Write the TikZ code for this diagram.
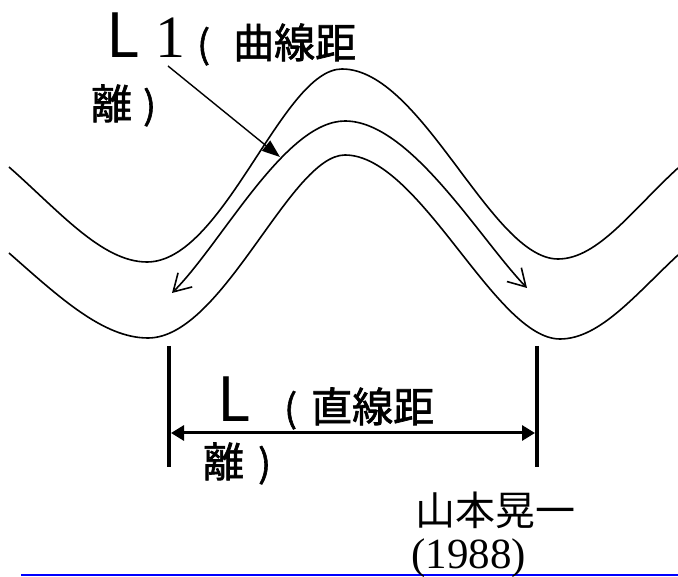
\documentclass[tikz,border=0pt]{standalone}
\usepackage{fontspec}
\usetikzlibrary{arrows.meta}
\newfontfamily\cjk{Noto Sans CJK JP}
\newfontfamily\cjkm{Noto Sans CJK JP}[FakeBold=1.6]
\newfontfamily\tms{Liberation Serif}
\newcommand{\bigL}{{\cjk\fontsize{61pt}{61pt}\selectfont L}}
\newcommand{\bigone}{{\tms\fontsize{60pt}{60pt}\selectfont 1}}
\newcommand{\pr}[1]{{\cjkm\fontsize{38pt}{38pt}\selectfont #1}}
\begin{document}
\begin{tikzpicture}[x=1pt,y=-1pt,
  bank/.style={line width=1.6pt, line join=round},
  barbs/.style={line width=1.6pt, {Straight Barb[length=17pt,width=20pt,line width=1.6pt]}-{Straight Barb[length=17pt,width=20pt,line width=1.6pt]}},
  pointer/.style={line width=1.4pt, -{Triangle[length=18pt,width=13pt]}},
  bar/.style={line width=4pt},
  span/.style={line width=3pt, {Triangle[length=13pt,width=15pt]}-{Triangle[length=13pt,width=15pt]}},
  txt/.style={inner sep=0pt, anchor=base west},
  label/.style={txt, font=\cjkm\fontsize{41pt}{41pt}\selectfont},
  cjkmid/.style={txt, font=\cjk\fontsize{40pt}{40pt}\selectfont},
  serifyr/.style={txt, font=\tms\fontsize{43pt}{43pt}\selectfont}]
\useasboundingbox (0,0) rectangle (678,577);

% river banks
\draw[bank] (9,167) .. controls (59,211) and (102,262) .. (147,262)
  .. controls (224,262) and (282,69) .. (342,69)
  .. controls (422,69) and (491,259) .. (558,259)
  .. controls (598,259) and (633,209) .. (678,168);
\draw[bank] (9,253) .. controls (59,297) and (103,338) .. (148,338)
  .. controls (223,338) and (290,155) .. (345,155)
  .. controls (420,155) and (495,339) .. (560,339)
  .. controls (600,339) and (636,294) .. (678,255);

% curved distance L1
\coordinate (c1) at (172,293);
\coordinate (c2) at (527,288);
\draw[barbs] (c1) .. controls (222,243) and (285,121) .. (345,121)
  .. controls (410,121) and (479,238) .. (c2);

% label L1
\node[label] (L1top) at (106.5,58)
  {\makebox[49pt][l]{\bigL}\makebox[41.5pt][l]{\bigone}\makebox[36pt][l]{\pr{(}}曲線距};
\node[label] (L1bot) at (91,119) {\makebox[52pt][l]{離}\pr{)}};

\coordinate (p1) at (168,66);
\coordinate (p2) at (280,157);
\draw[pointer] (p1) -- (p2);

% straight distance L
\coordinate (lt) at (169,346);
\coordinate (lb) at (169,467);
\coordinate (rt) at (537,346);
\coordinate (rb) at (537,467);
\draw[bar] (lt) -- (lb);
\draw[bar] (rt) -- (rb);
\coordinate (la) at (171,433);
\coordinate (ra) at (535,433);
\draw[span] (la) -- (ra);

\node[label] (Ltop) at (217.5,422)
  {\makebox[66.5pt][l]{\bigL}\makebox[27pt][l]{\pr{(}}直線距};
\node[label] (Lbot) at (203,477) {\makebox[55pt][l]{離}\pr{)}};

% source
\draw[blue, line width=2pt] (21,575) -- (678,575);
\node[cjkmid] (src) at (415,525) {山本晃一};
\node[serifyr] (yr) at (411,568) {(1988)};
\end{tikzpicture}
\end{document}
